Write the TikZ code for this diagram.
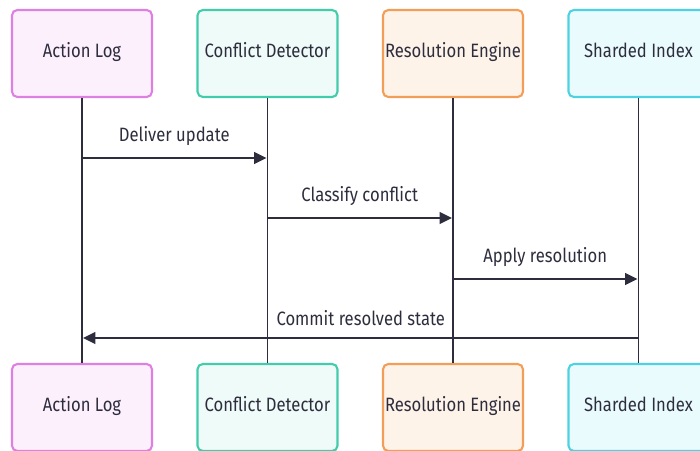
\documentclass[tikz,border=0pt]{standalone}
\usepackage{fontspec}
\setmainfont[FakeStretch=0.86]{Fira Sans}
\usepackage{tikz}
\usetikzlibrary{arrows.meta,positioning,calc}
\usepackage{xcolor}
\definecolor{ink}{RGB}{45,45,62}
\definecolor{logline}{RGB}{222,128,226}
\definecolor{logfill}{RGB}{253,240,253}
\definecolor{detline}{RGB}{66,204,172}
\definecolor{detfill}{RGB}{239,251,248}
\definecolor{resline}{RGB}{242,158,88}
\definecolor{resfill}{RGB}{254,243,232}
\definecolor{idxline}{RGB}{78,210,226}
\definecolor{idxfill}{RGB}{234,251,253}

\tikzset{
  actor/.style={draw, line width=1.2pt, rounded corners=3pt, minimum width=2.8cm,
    minimum height=1.74cm, text=ink, inner sep=0pt, text height=7pt, text depth=3pt},
  lifeline/.style={draw=ink, line width=0.9pt},
  msg/.style={draw=ink, line width=1.3pt, -{Triangle[length=7pt,width=6.5pt]}},
  msglabel/.style={text=ink, text height=8pt, text depth=2pt}
}

\begin{document}
\begin{tikzpicture}[x=0.02cm,y=-0.02cm,font=\fontsize{11}{13}\selectfont]
    \clip (0,0) rectangle (700,450);
    \useasboundingbox (0,0) rectangle (700,450);
    % participants, top row
    \node[actor, draw=logline, fill=logfill] (logtop) at (82,53.5) {Action Log};
    \node[actor, draw=detline, fill=detfill] (dettop) at (267.5,53.5) {Conflict Detector};
    \node[actor, draw=resline, fill=resfill] (restop) at (453,53.5) {Resolution Engine};
    \node[actor, draw=idxline, fill=idxfill] (idxtop) at (638.5,53.5) {Sharded Index};
    % participants, bottom row
    \node[actor, draw=logline, fill=logfill] (logbot) at (82,407.5) {Action Log};
    \node[actor, draw=detline, fill=detfill] (detbot) at (267.5,407.5) {Conflict Detector};
    \node[actor, draw=resline, fill=resfill] (resbot) at (453,407.5) {Resolution Engine};
    \node[actor, draw=idxline, fill=idxfill] (idxbot) at (638.5,407.5) {Sharded Index};
    % lifelines
    \draw[lifeline] (logtop) -- (logbot);
    \draw[lifeline] (dettop) -- (detbot);
    \draw[lifeline] (restop) -- (resbot);
    \draw[lifeline] (idxtop) -- (idxbot);
    % messages
    \draw[msg] (logtop.south |- 0,158) -- ($(dettop.south |- 0,158)+(-1,0)$)
      node[msglabel, midway, above=3.5pt] (m1) {Deliver update};
    \draw[msg] (dettop.south |- 0,218) -- ($(restop.south |- 0,218)+(-1,0)$)
      node[msglabel, midway, above=3.5pt] (m2) {Classify conflict};
    \draw[msg] (restop.south |- 0,279) -- ($(idxtop.south |- 0,279)+(-1,0)$)
      node[msglabel, midway, above=3.5pt] (m3) {Apply resolution};
    \draw[msg] (idxtop.south |- 0,338) -- ($(logtop.south |- 0,338)+(1,0)$)
      node[msglabel, midway, above=1pt] (m4) {Commit resolved state};
  \end{tikzpicture}
\end{document}
